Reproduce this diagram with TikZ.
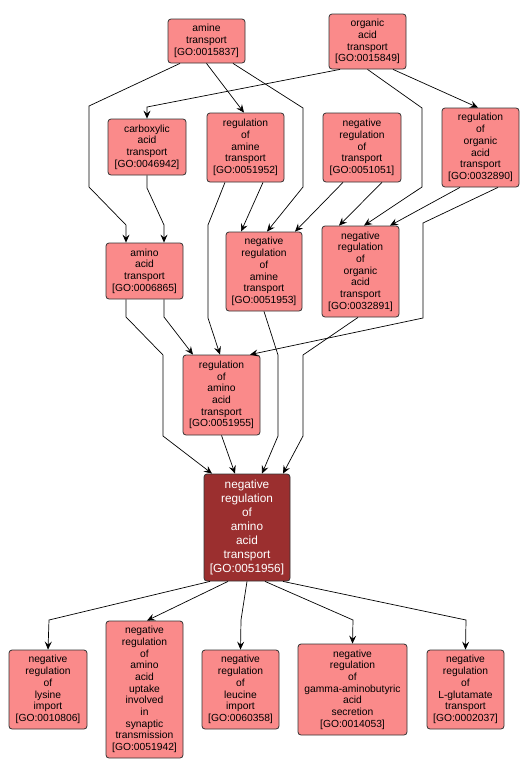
\documentclass[tikz,border=0pt]{standalone}
\usepackage{fontspec}
\setmainfont{Liberation Sans}
\usetikzlibrary{arrows.meta}

\definecolor{termpink}{RGB}{250,138,138}
\definecolor{termred}{RGB}{155,47,47}

\begin{document}
\begin{tikzpicture}
  [
    x=1pt, y=-1pt,
    term/.style =
      {draw=black!80, fill=termpink, rounded corners=3pt, align=center,
       inner sep=0pt, line width=0.8pt, font=\fontsize{10.3}{11.7}\selectfont},
    focus/.style =
      {term, fill=termred, text=white, font=\fontsize{11.8}{14}\selectfont},
    arr/.style =
      {-{Stealth[length=8pt, width=7pt, inset=3pt]}, line width=0.7pt}
  ]
  \useasboundingbox (0,0) rectangle (529,774);

  % top rows
  \node [term, minimum width=77pt, minimum height=44pt] at (206.5, 41)   (amt) {amine\\transport\\{[GO:0015837]}};
  \node [term, minimum width=77pt, minimum height=55pt] at (367.5, 41.5) (oat) {organic\\acid\\transport\\{[GO:0015849]}};
  \node [term, minimum width=78pt, minimum height=56pt] at (147, 147)    (cat) {carboxylic\\acid\\transport\\{[GO:0046942]}};
  \node [term, minimum width=77pt, minimum height=69pt] at (245.5, 147.5) (ram) {regulation\\of\\amine\\transport\\{[GO:0051952]}};
  \node [term, minimum width=78pt, minimum height=69pt] at (362, 147.5)   (nrt) {negative\\regulation\\of\\transport\\{[GO:0051051]}};
  \node [term, minimum width=77pt, minimum height=79pt] at (480.5, 147.5) (roa) {regulation\\of\\organic\\acid\\transport\\{[GO:0032890]}};
  \node [term, minimum width=77pt, minimum height=56pt] at (144.5, 271)   (aat) {amino\\acid\\transport\\{[GO:0006865]}};
  \node [term, minimum width=76pt, minimum height=79pt] at (264, 271.5)   (nra) {negative\\regulation\\of\\amine\\transport\\{[GO:0051953]}};
  \node [term, minimum width=77pt, minimum height=91pt] at (360.5, 271.5) (nro) {negative\\regulation\\of\\organic\\acid\\transport\\{[GO:0032891]}};
  \node [term, minimum width=77pt, minimum height=80pt] at (221.5, 395)   (raa) {regulation\\of\\amino\\acid\\transport\\{[GO:0051955]}};

  % the term itself
  \node [focus, minimum width=86pt, minimum height=107pt] at (247, 527.5) (nraa) {negative\\regulation\\of\\amino\\acid\\transport\\{[GO:0051956]}};

  % children
  \node [term, minimum width=78pt, minimum height=79pt]  at (48, 689.5)    (lys) {negative\\regulation\\of\\lysine\\import\\{[GO:0010806]}};
  \node [term, minimum width=77pt, minimum height=137pt] at (144.5, 689.5) (upt) {negative\\regulation\\of\\amino\\acid\\uptake\\involved\\in\\synaptic\\transmission\\{[GO:0051942]}};
  \node [term, minimum width=77pt, minimum height=79pt]  at (240.5, 689.5) (leu) {negative\\regulation\\of\\leucine\\import\\{[GO:0060358]}};
  \node [term, minimum width=109pt, minimum height=91pt] at (352.5, 689.5) (gab) {negative\\regulation\\of\\gamma-aminobutyric\\acid\\secretion\\{[GO:0014053]}};
  \node [term, minimum width=77pt, minimum height=79pt]  at (465.5, 689.5) (glu) {negative\\regulation\\of\\L-glutamate\\transport\\{[GO:0002037]}};

  % edges into the upper terms
  \draw [arr] ([xshift=-26.5pt]amt.south) -- (89,106) -- (89,187) -- (126,225) -- ([xshift=-18.5pt]aat.north);
  \draw [arr] (amt.south) -- ([xshift=-1.5pt]ram.north);
  \draw [arr] ([xshift=26.5pt]amt.south) -- (303,108) -- (303,187) -- ([xshift=3pt]nra.north);
  \draw [arr] ([xshift=-27.5pt]oat.south) -- (147,107) -- (cat.north);
  \draw [arr] ([xshift=25.5pt]oat.south) -- ([xshift=-2.5pt]roa.north);
  \draw [arr] (oat.south) -- (422,108) -- (422,187) -- ([xshift=3.5pt]nro.north);
  \draw [arr] (cat.south) -- (147,188) -- (164,225) -- ([xshift=19.5pt]aat.north);
  \draw [arr] ([xshift=-20.5pt]ram.south) -- (208,225) -- (208,318) -- ([xshift=-1.5pt]raa.north);
  \draw [arr] ([xshift=17.5pt]ram.south) -- ([xshift=-23pt]nra.north);
  \draw [arr] ([xshift=-19pt]nrt.south) -- ([xshift=31pt]nra.north);
  \draw [arr] ([xshift=20pt]nrt.south) -- ([xshift=-21.5pt]nro.north);
  \draw [arr] ([xshift=-20.5pt]roa.south) -- ([xshift=29.5pt]nro.north);
  \draw [arr] ([xshift=17.5pt]roa.south) -- (423,223) -- (423,318) -- ([xshift=28.5pt]raa.north);
  \draw [arr] ([xshift=19.5pt]aat.south) -- (164,317) -- ([xshift=-28.5pt]raa.north);

  % edges into the term
  \draw [arr] ([xshift=-18.5pt]aat.south) -- (126,317) -- (163,355) -- (163,436) -- ([xshift=-35pt]nraa.north);
  \draw [arr] (raa.south) -- ([xshift=-12pt]nraa.north);
  \draw [arr] (nra.south) -- (278,355) -- (278,436) -- ([xshift=15pt]nraa.north);
  \draw [arr] ([xshift=-2.5pt]nro.south) -- (303,355) -- (303,436) -- ([xshift=36pt]nraa.north);

  % edges to the children
  \draw [arr] ([xshift=-37pt]nraa.south) -- (49,620) -- (lys.north);
  \draw [arr] ([xshift=-19pt]nraa.south) -- ([xshift=2.5pt]upt.north);
  \draw [arr] (nraa.south) -- (241,620) -- (leu.north);
  \draw [arr] ([xshift=18pt]nraa.south) -- (353,620) -- (gab.north);
  \draw [arr] ([xshift=36pt]nraa.south) -- (466,620) -- (glu.north);
\end{tikzpicture}
\end{document}
